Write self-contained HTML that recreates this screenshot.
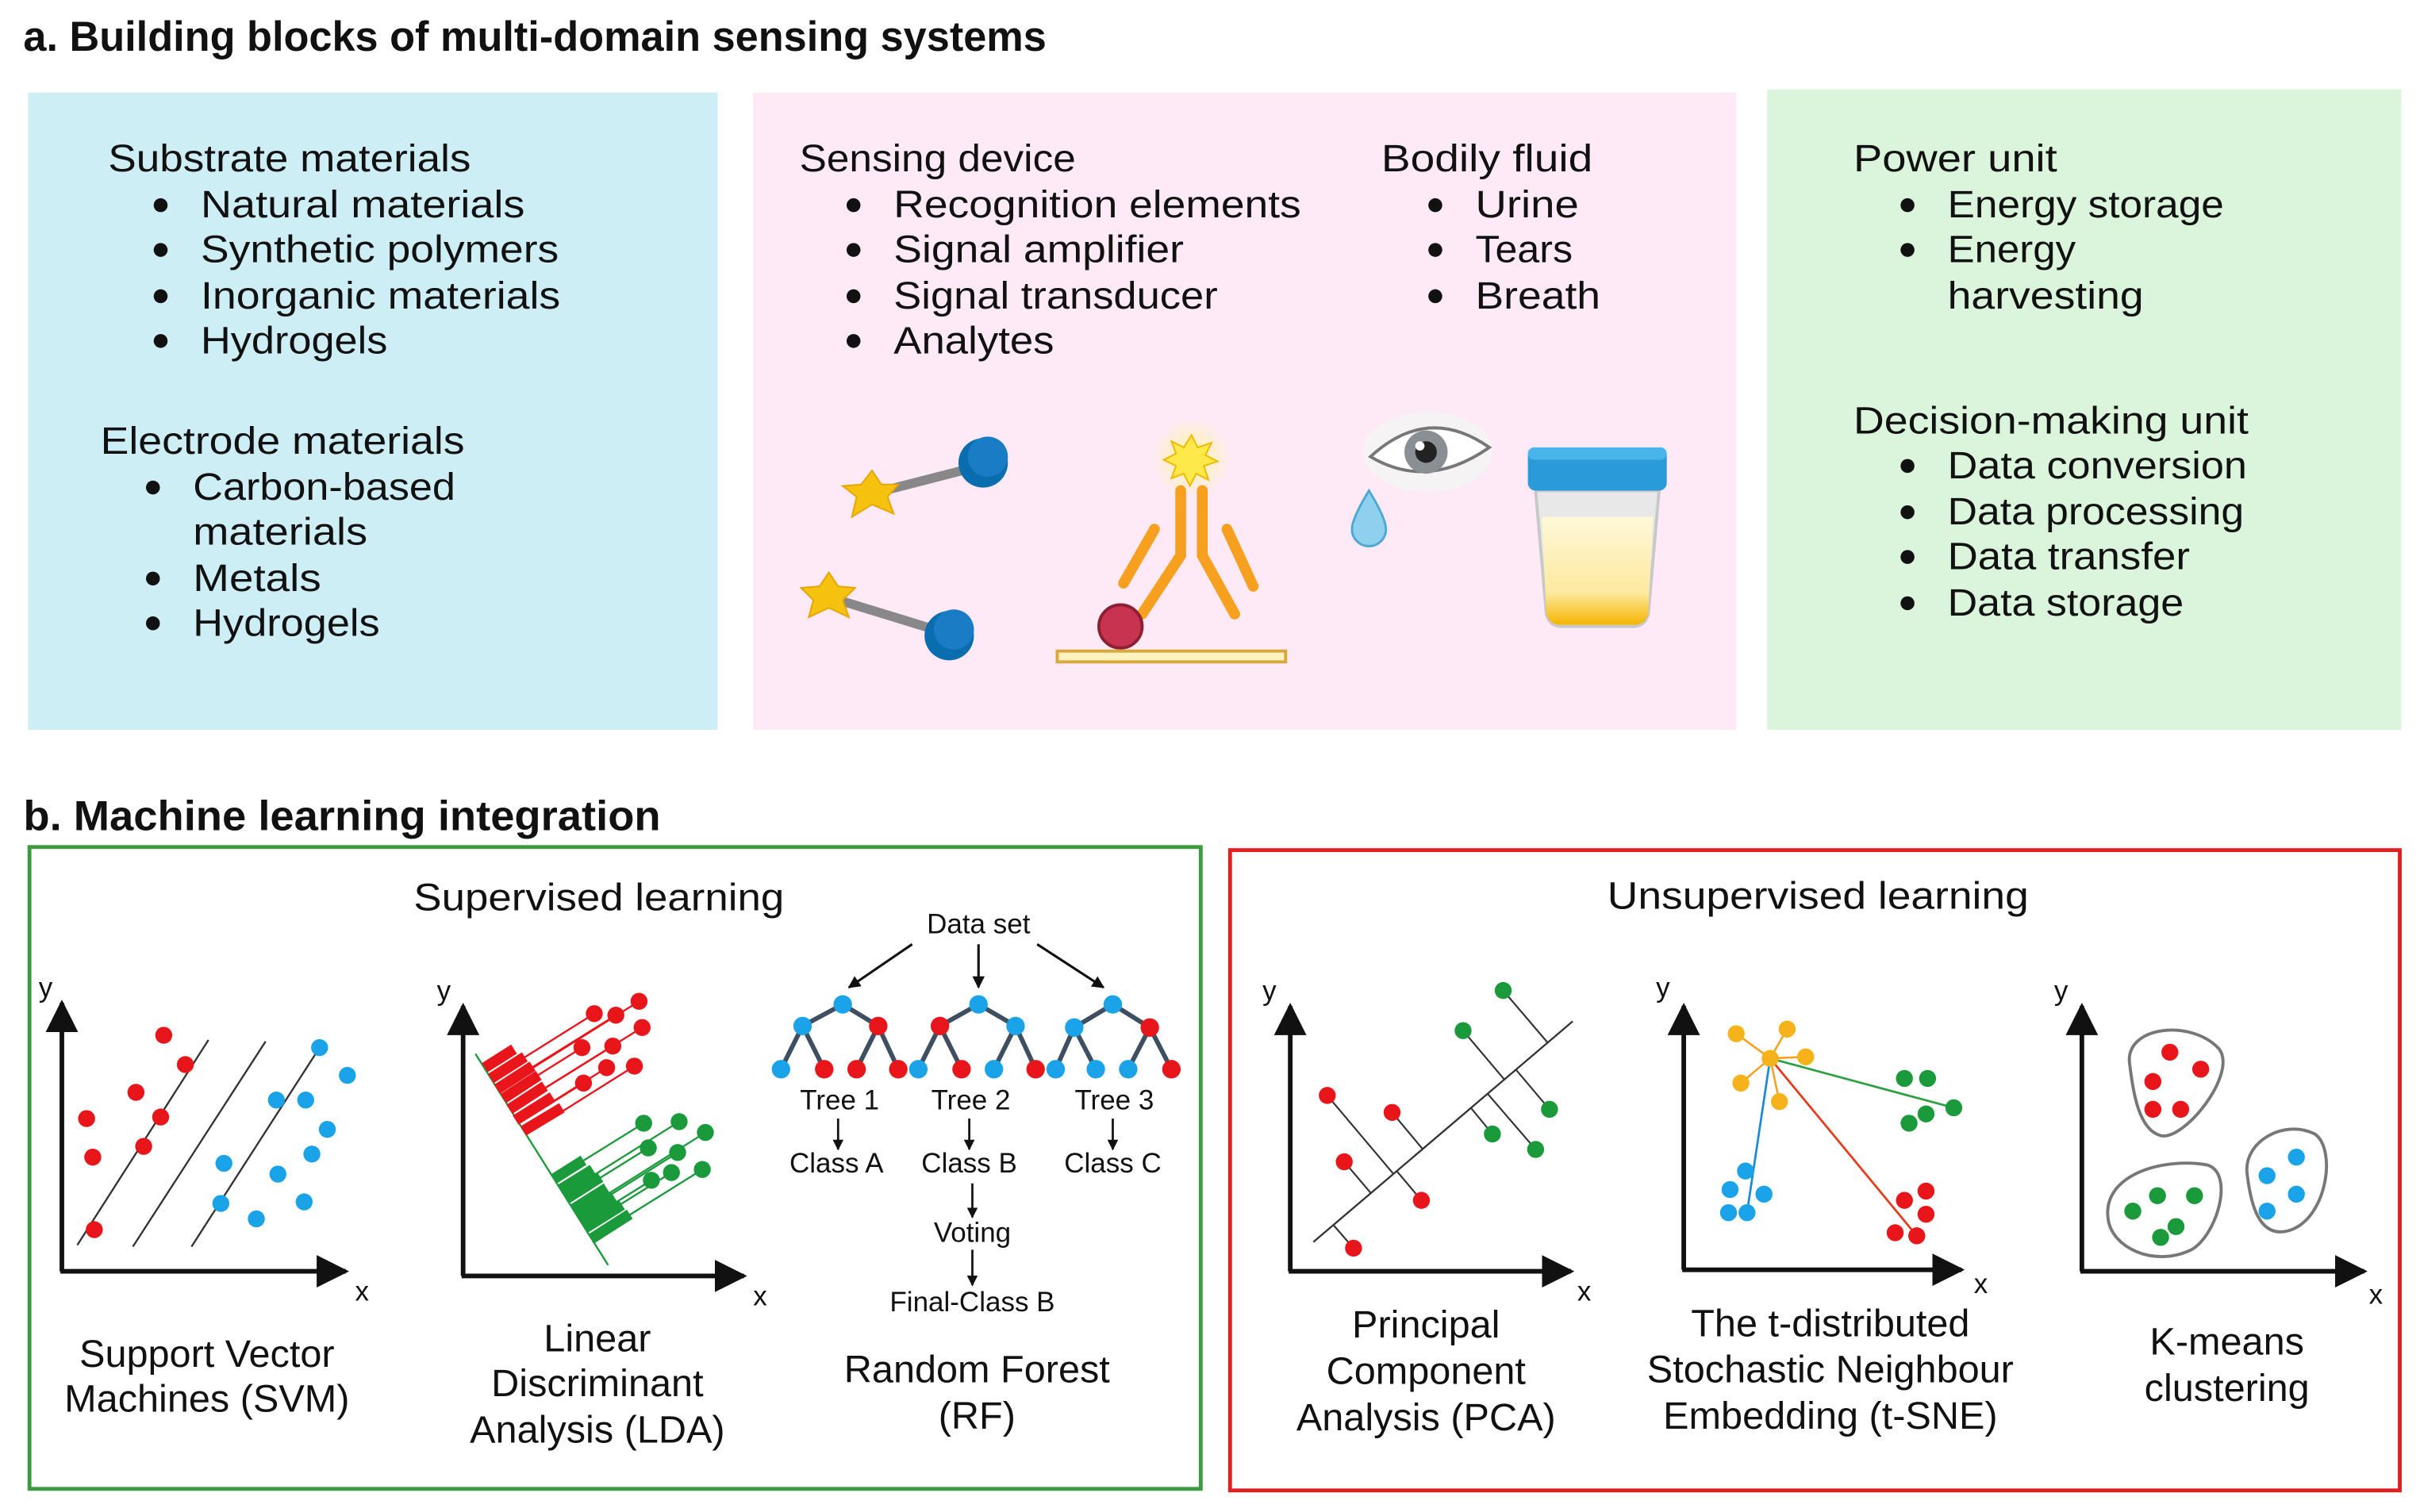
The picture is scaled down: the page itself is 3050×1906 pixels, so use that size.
<!DOCTYPE html>
<html><head><meta charset="utf-8"><style>
html,body{margin:0;padding:0;background:#fff;}
svg{display:block;}
text{font-family:"Liberation Sans",sans-serif;fill:#111;}
.t{font-size:25px;}
.s{font-size:18px;}
.b{font-weight:bold;font-size:27px;}
</style></head><body>
<svg width="3050" height="1906" viewBox="0 0 1568 980" xmlns="http://www.w3.org/2000/svg">
<defs>
<marker id="ah" viewBox="0 0 10 10" refX="9" refY="5" markerWidth="7" markerHeight="7" orient="auto-start-reverse"><path d="M0,0 L10,5 L0,10 z" fill="#111"/></marker>
<marker id="ahs" viewBox="0 0 10 10" refX="9" refY="5" markerWidth="5" markerHeight="5" orient="auto"><path d="M0,0 L10,5 L0,10 z" fill="#111"/></marker>
<radialGradient id="glow"><stop offset="0" stop-color="#fff6a0" stop-opacity="1"/><stop offset="1" stop-color="#fff6a0" stop-opacity="0"/></radialGradient>
<linearGradient id="liq" x1="0" y1="0" x2="0" y2="1"><stop offset="0" stop-color="#fff8d8"/><stop offset="0.7" stop-color="#fde9a0"/><stop offset="1" stop-color="#f5b400"/></linearGradient>
</defs>

<text class="b" x="15" y="33" textLength="663" lengthAdjust="spacingAndGlyphs">a. Building blocks of multi-domain sensing systems</text>

<rect x="18" y="60" width="447" height="413" fill="#cdeef5"/>
<rect x="488" y="60" width="637" height="413" fill="#fdeaf6"/>
<rect x="1145" y="58" width="411" height="415" fill="#daf5dc"/>

<g class="t">
<text x="70" y="111" textLength="235" lengthAdjust="spacingAndGlyphs">Substrate materials</text>
<text x="130" y="141" textLength="210" lengthAdjust="spacingAndGlyphs">Natural materials</text>
<text x="130" y="170" textLength="232" lengthAdjust="spacingAndGlyphs">Synthetic polymers</text>
<text x="130" y="200" textLength="233" lengthAdjust="spacingAndGlyphs">Inorganic materials</text>
<text x="130" y="229" textLength="121" lengthAdjust="spacingAndGlyphs">Hydrogels</text>
<text x="65" y="294" textLength="236" lengthAdjust="spacingAndGlyphs">Electrode materials</text>
<text x="125" y="324" textLength="170" lengthAdjust="spacingAndGlyphs">Carbon-based</text>
<text x="125" y="353" textLength="113" lengthAdjust="spacingAndGlyphs">materials</text>
<text x="125" y="383" textLength="83" lengthAdjust="spacingAndGlyphs">Metals</text>
<text x="125" y="412" textLength="121" lengthAdjust="spacingAndGlyphs">Hydrogels</text>

<text x="518" y="111" textLength="179" lengthAdjust="spacingAndGlyphs">Sensing device</text>
<text x="579" y="141" textLength="264" lengthAdjust="spacingAndGlyphs">Recognition elements</text>
<text x="579" y="170" textLength="188" lengthAdjust="spacingAndGlyphs">Signal amplifier</text>
<text x="579" y="200" textLength="210" lengthAdjust="spacingAndGlyphs">Signal transducer</text>
<text x="579" y="229" textLength="104" lengthAdjust="spacingAndGlyphs">Analytes</text>
<text x="895" y="111" textLength="137" lengthAdjust="spacingAndGlyphs">Bodily fluid</text>
<text x="956" y="141" textLength="67" lengthAdjust="spacingAndGlyphs">Urine</text>
<text x="956" y="170" textLength="63" lengthAdjust="spacingAndGlyphs">Tears</text>
<text x="956" y="200" textLength="81" lengthAdjust="spacingAndGlyphs">Breath</text>

<text x="1201" y="111" textLength="132" lengthAdjust="spacingAndGlyphs">Power unit</text>
<text x="1262" y="141" textLength="179" lengthAdjust="spacingAndGlyphs">Energy storage</text>
<text x="1262" y="170" textLength="83" lengthAdjust="spacingAndGlyphs">Energy</text>
<text x="1262" y="200" textLength="127" lengthAdjust="spacingAndGlyphs">harvesting</text>
<text x="1201" y="281" textLength="256" lengthAdjust="spacingAndGlyphs">Decision-making unit</text>
<text x="1262" y="310" textLength="194" lengthAdjust="spacingAndGlyphs">Data conversion</text>
<text x="1262" y="340" textLength="192" lengthAdjust="spacingAndGlyphs">Data processing</text>
<text x="1262" y="369" textLength="157" lengthAdjust="spacingAndGlyphs">Data transfer</text>
<text x="1262" y="399" textLength="153" lengthAdjust="spacingAndGlyphs">Data storage</text>
</g>
<g fill="#111">
<circle cx="104" cy="133" r="4.5"/><circle cx="104" cy="162" r="4.5"/><circle cx="104" cy="192" r="4.5"/><circle cx="104" cy="221" r="4.5"/>
<circle cx="99" cy="316" r="4.5"/><circle cx="99" cy="375" r="4.5"/><circle cx="99" cy="404" r="4.5"/>
<circle cx="553" cy="133" r="4.5"/><circle cx="553" cy="162" r="4.5"/><circle cx="553" cy="192" r="4.5"/><circle cx="553" cy="221" r="4.5"/>
<circle cx="930" cy="133" r="4.5"/><circle cx="930" cy="162" r="4.5"/><circle cx="930" cy="192" r="4.5"/>
<circle cx="1236" cy="133" r="4.5"/><circle cx="1236" cy="162" r="4.5"/>
<circle cx="1236" cy="302" r="4.5"/><circle cx="1236" cy="332" r="4.5"/><circle cx="1236" cy="361" r="4.5"/><circle cx="1236" cy="391" r="4.5"/>
</g>

<!-- molecules -->
<line x1="565" y1="320" x2="635" y2="302" stroke="#888" stroke-width="6"/>
<polygon points="565,305 571,314 582,314 575,322 579,333 565,327 552,335 555,322 546,315 558,314" fill="#f5c20f" stroke="#e8a400" stroke-width="1"/>
<circle cx="637" cy="300" r="16" fill="#0a6db0"/><circle cx="640" cy="296" r="13" fill="#1a7cc4"/>
<line x1="537" y1="387" x2="612" y2="410" stroke="#888" stroke-width="6"/>
<polygon points="537,371 543,380 554,381 546,389 550,400 537,394 524,400 527,389 519,381 531,380" fill="#f5c20f" stroke="#e8a400" stroke-width="1"/>
<circle cx="615" cy="412" r="16" fill="#0a6db0"/><circle cx="618" cy="408" r="13" fill="#1a7cc4"/>
<!-- antibody -->
<rect x="685" y="422" width="148" height="7" fill="#fdf2c0" stroke="#d8a83a" stroke-width="2"/>
<circle cx="772" cy="297" r="26" fill="url(#glow)"/>
<polygon points="772,282 776,290 785,287 781,295 789,299 780,302 783,311 775,307 771,315 767,307 759,310 762,302 754,298 762,294 759,286 767,290" fill="#fde94a" stroke="#f0b800" stroke-width="1"/>
<g stroke="#f7a020" stroke-width="7" stroke-linecap="round" fill="none">
<line x1="765" y1="318" x2="765" y2="360"/><line x1="779" y1="318" x2="779" y2="360"/>
<polyline points="765,360 740,398"/><polyline points="779,360 800,398"/>
<line x1="748" y1="343" x2="728" y2="378"/><line x1="795" y1="343" x2="812" y2="380"/>
</g>
<circle cx="726" cy="406" r="14" fill="#c8344f" stroke="#8e1f33" stroke-width="2"/>
<!-- eye -->
<ellipse cx="925" cy="293" rx="42" ry="26" fill="#f4f4f4" opacity="0.9"/>
<path d="M888,296 Q925,262 965,290 Q925,318 888,296 z" fill="#fff" stroke="#777" stroke-width="2"/>
<circle cx="924" cy="293" r="14" fill="#8a8f94"/><circle cx="924" cy="293" r="7" fill="#222"/><circle cx="920" cy="289" r="3" fill="#fff"/>
<path d="M887,318 Q876,336 876,343 A11,11 0 0 0 898,343 Q898,336 887,318 z" fill="#8fd0ee" stroke="#4fa8d4" stroke-width="1.5"/>
<!-- cup -->
<path d="M995,318 L1075,318 L1068,398 Q1066,406 1058,406 L1012,406 Q1004,406 1002,398 z" fill="#e8e8e8" stroke="#c8c8c8" stroke-width="2"/>
<path d="M999,335 L1071,335 L1068,398 Q1066,405 1058,405 L1012,405 Q1004,405 1002,398 z" fill="url(#liq)"/>
<rect x="990" y="290" width="90" height="28" rx="5" fill="#2a9bd8"/>
<rect x="990" y="290" width="90" height="8" rx="4" fill="#49b4ea"/>

<!-- PART B -->
<text class="b" x="15" y="538" textLength="413" lengthAdjust="spacingAndGlyphs">b. Machine learning integration</text>
<rect x="19" y="549" width="759" height="416" fill="none" stroke="#3d9a40" stroke-width="2.5"/>
<rect x="797" y="551" width="758" height="415" fill="none" stroke="#e02020" stroke-width="2.5"/>
<text class="t" x="388" y="590" text-anchor="middle" textLength="240" lengthAdjust="spacingAndGlyphs">Supervised learning</text>
<text class="t" x="1178" y="589" text-anchor="middle" textLength="273" lengthAdjust="spacingAndGlyphs">Unsupervised learning</text>

<!-- SVM -->
<g stroke="#111" stroke-width="3" fill="none">
<line x1="40" y1="824" x2="40" y2="650" marker-end="url(#ah)"/>
<line x1="39" y1="824" x2="224" y2="824" marker-end="url(#ah)"/>
</g>
<text class="s" x="25" y="646">y</text><text class="s" x="230" y="843">x</text>
<g stroke="#333" stroke-width="1.2">
<line x1="50" y1="807" x2="135" y2="674"/><line x1="86" y1="808" x2="172" y2="675"/><line x1="124" y1="808" x2="207" y2="679"/>
</g>
<g fill="#e8151b">
<circle cx="106" cy="671" r="5.5"/><circle cx="120" cy="690" r="5.5"/><circle cx="88" cy="708" r="5.5"/><circle cx="56" cy="725" r="5.5"/><circle cx="104" cy="724" r="5.5"/><circle cx="93" cy="743" r="5.5"/><circle cx="60" cy="750" r="5.5"/><circle cx="61" cy="797" r="5.5"/>
</g>
<g fill="#1aa3e8">
<circle cx="207" cy="679" r="5.5"/><circle cx="225" cy="697" r="5.5"/><circle cx="179" cy="713" r="5.5"/><circle cx="198" cy="713" r="5.5"/><circle cx="212" cy="732" r="5.5"/><circle cx="202" cy="748" r="5.5"/><circle cx="145" cy="754" r="5.5"/><circle cx="180" cy="761" r="5.5"/><circle cx="143" cy="780" r="5.5"/><circle cx="197" cy="779" r="5.5"/><circle cx="166" cy="790" r="5.5"/>
</g>
<text class="t" x="134" y="886" text-anchor="middle">Support Vector</text>
<text class="t" x="134" y="915" text-anchor="middle">Machines (SVM)</text>

<!-- LDA -->
<g stroke="#111" stroke-width="3" fill="none">
<line x1="300" y1="827" x2="300" y2="652" marker-end="url(#ah)"/>
<line x1="299" y1="827" x2="482" y2="827" marker-end="url(#ah)"/>
</g>
<text class="s" x="283" y="648">y</text><text class="s" x="488" y="846">x</text>
<line x1="308" y1="683" x2="394" y2="820" stroke="#1a9a3a" stroke-width="1.2"/>
<g stroke="#e8151b" stroke-width="1.2">
<line x1="318" y1="699" x2="385" y2="657"/><line x1="322" y1="706" x2="399" y2="658"/><line x1="323" y1="706" x2="414" y2="649"/><line x1="331" y1="719" x2="416" y2="666"/><line x1="326" y1="711" x2="377" y2="679"/><line x1="331" y1="719" x2="397" y2="678"/><line x1="336" y1="728" x2="393" y2="692"/><line x1="341" y1="735" x2="411" y2="691"/><line x1="336" y1="728" x2="378" y2="702"/>
</g>
<g stroke="#e8151b" stroke-width="7">
<line x1="314" y1="692" x2="333" y2="680"/><line x1="318" y1="699" x2="340" y2="685"/><line x1="322" y1="706" x2="345" y2="691"/><line x1="326" y1="712" x2="349" y2="697"/><line x1="330" y1="719" x2="353" y2="704"/><line x1="334" y1="726" x2="358" y2="711"/><line x1="339" y1="733" x2="364" y2="718"/>
</g>
<g fill="#e8151b">
<circle cx="385" cy="657" r="5.5"/><circle cx="399" cy="658" r="5.5"/><circle cx="414" cy="649" r="5.5"/><circle cx="416" cy="666" r="5.5"/><circle cx="377" cy="679" r="5.5"/><circle cx="397" cy="678" r="5.5"/><circle cx="393" cy="692" r="5.5"/><circle cx="411" cy="691" r="5.5"/><circle cx="378" cy="702" r="5.5"/>
</g>
<g stroke="#1a9a3a" stroke-width="1.2">
<line x1="359" y1="764" x2="417" y2="728"/><line x1="365" y1="774" x2="440" y2="727"/><line x1="373" y1="787" x2="457" y2="734"/><line x1="367" y1="777" x2="420" y2="744"/><line x1="374" y1="788" x2="439" y2="747"/><line x1="379" y1="795" x2="435" y2="760"/><line x1="383" y1="803" x2="455" y2="758"/><line x1="377" y1="793" x2="422" y2="765"/>
</g>
<g stroke="#1a9a3a" stroke-width="7">
<line x1="359" y1="764" x2="378" y2="752"/><line x1="363" y1="771" x2="384" y2="758"/><line x1="367" y1="777" x2="389" y2="763"/><line x1="371" y1="784" x2="393" y2="770"/><line x1="375" y1="790" x2="398" y2="776"/><line x1="379" y1="796" x2="403" y2="781"/><line x1="383" y1="803" x2="408" y2="787"/>
</g>
<g fill="#1a9a3a">
<circle cx="417" cy="728" r="5.5"/><circle cx="440" cy="727" r="5.5"/><circle cx="457" cy="734" r="5.5"/><circle cx="420" cy="744" r="5.5"/><circle cx="439" cy="747" r="5.5"/><circle cx="435" cy="760" r="5.5"/><circle cx="455" cy="758" r="5.5"/><circle cx="422" cy="765" r="5.5"/>
</g>
<text class="t" x="387" y="876" text-anchor="middle">Linear</text>
<text class="t" x="387" y="905" text-anchor="middle">Discriminant</text>
<text class="t" x="387" y="935" text-anchor="middle">Analysis (LDA)</text>

<!-- RF -->
<text class="s" x="634" y="605" text-anchor="middle">Data set</text>
<g stroke="#111" stroke-width="1.6">
<line x1="591" y1="612" x2="550" y2="640" marker-end="url(#ahs)"/>
<line x1="634" y1="612" x2="634" y2="640" marker-end="url(#ahs)"/>
<line x1="672" y1="612" x2="715" y2="640" marker-end="url(#ahs)"/>
</g>
<g stroke="#3d4f60" stroke-width="3">
<polyline points="506,693 520,665 546,651 569,665 582,693" fill="none"/><line x1="520" y1="665" x2="534" y2="693"/><line x1="569" y1="665" x2="555" y2="693"/>
<polyline points="595,693 609,665 634,651 658,665 671,693" fill="none"/><line x1="609" y1="665" x2="623" y2="693"/><line x1="658" y1="665" x2="644" y2="693"/>
<polyline points="684,693 696,666 721,651 745,666 759,693" fill="none"/><line x1="696" y1="666" x2="710" y2="693"/><line x1="745" y1="666" x2="731" y2="693"/>
</g>
<g>
<circle cx="546" cy="651" r="6" fill="#1aa3e8"/><circle cx="520" cy="665" r="6" fill="#1aa3e8"/><circle cx="569" cy="665" r="6" fill="#e8151b"/>
<circle cx="506" cy="693" r="6" fill="#1aa3e8"/><circle cx="534" cy="693" r="6" fill="#e8151b"/><circle cx="555" cy="693" r="6" fill="#e8151b"/><circle cx="582" cy="693" r="6" fill="#e8151b"/>
<circle cx="634" cy="651" r="6" fill="#1aa3e8"/><circle cx="609" cy="665" r="6" fill="#e8151b"/><circle cx="658" cy="665" r="6" fill="#1aa3e8"/>
<circle cx="595" cy="693" r="6" fill="#1aa3e8"/><circle cx="623" cy="693" r="6" fill="#e8151b"/><circle cx="644" cy="693" r="6" fill="#1aa3e8"/><circle cx="671" cy="693" r="6" fill="#e8151b"/>
<circle cx="721" cy="651" r="6" fill="#1aa3e8"/><circle cx="696" cy="666" r="6" fill="#1aa3e8"/><circle cx="745" cy="666" r="6" fill="#e8151b"/>
<circle cx="684" cy="693" r="6" fill="#1aa3e8"/><circle cx="710" cy="693" r="6" fill="#1aa3e8"/><circle cx="731" cy="693" r="6" fill="#1aa3e8"/><circle cx="759" cy="693" r="6" fill="#e8151b"/>
</g>
<g class="s" text-anchor="middle">
<text x="544" y="719">Tree 1</text><text x="629" y="719">Tree 2</text><text x="722" y="719">Tree 3</text>
<text x="542" y="760">Class A</text><text x="628" y="760">Class B</text><text x="721" y="760">Class C</text>
<text x="630" y="805">Voting</text><text x="630" y="850">Final-Class B</text>
</g>
<g stroke="#111" stroke-width="1.4">
<line x1="543" y1="725" x2="543" y2="745" marker-end="url(#ahs)"/>
<line x1="628" y1="725" x2="628" y2="745" marker-end="url(#ahs)"/>
<line x1="721" y1="725" x2="721" y2="745" marker-end="url(#ahs)"/>
<line x1="630" y1="767" x2="630" y2="789" marker-end="url(#ahs)"/>
<line x1="630" y1="810" x2="630" y2="833" marker-end="url(#ahs)"/>
</g>
<text class="t" x="633" y="896" text-anchor="middle">Random Forest</text>
<text class="t" x="633" y="926" text-anchor="middle">(RF)</text>

<!-- PCA -->
<g stroke="#111" stroke-width="3" fill="none">
<line x1="836" y1="824" x2="836" y2="652" marker-end="url(#ah)"/>
<line x1="835" y1="824" x2="1018" y2="824" marker-end="url(#ah)"/>
</g>
<text class="s" x="818" y="648">y</text><text class="s" x="1022" y="843">x</text>
<line x1="851" y1="805" x2="1019" y2="662" stroke="#333" stroke-width="1.2"/>
<g stroke="#333" stroke-width="1.1">
<line x1="860" y1="710" x2="903" y2="761"/><line x1="902" y1="721" x2="922" y2="745"/><line x1="871" y1="753" x2="888" y2="773"/><line x1="921" y1="778" x2="905" y2="759"/><line x1="877" y1="809" x2="864" y2="794"/>
<line x1="974" y1="642" x2="1003" y2="676"/><line x1="948" y1="668" x2="975" y2="700"/><line x1="1004" y1="719" x2="982" y2="693"/><line x1="967" y1="735" x2="953" y2="718"/><line x1="995" y1="745" x2="964" y2="709"/>
</g>
<g fill="#e8151b"><circle cx="860" cy="710" r="5.5"/><circle cx="902" cy="721" r="5.5"/><circle cx="871" cy="753" r="5.5"/><circle cx="921" cy="778" r="5.5"/><circle cx="877" cy="809" r="5.5"/></g>
<g fill="#1a9a3a"><circle cx="974" cy="642" r="5.5"/><circle cx="948" cy="668" r="5.5"/><circle cx="1004" cy="719" r="5.5"/><circle cx="967" cy="735" r="5.5"/><circle cx="995" cy="745" r="5.5"/></g>
<text class="t" x="924" y="867" text-anchor="middle">Principal</text>
<text class="t" x="924" y="897" text-anchor="middle">Component</text>
<text class="t" x="924" y="927" text-anchor="middle">Analysis (PCA)</text>

<!-- t-SNE -->
<g stroke="#111" stroke-width="3" fill="none">
<line x1="1091" y1="823" x2="1091" y2="652" marker-end="url(#ah)"/>
<line x1="1090" y1="823" x2="1271" y2="823" marker-end="url(#ah)"/>
</g>
<text class="s" x="1073" y="646">y</text><text class="s" x="1279" y="838">x</text>
<g stroke="#f7a020" stroke-width="1.3">
<line x1="1147" y1="686" x2="1125" y2="670"/><line x1="1147" y1="686" x2="1158" y2="667"/><line x1="1147" y1="686" x2="1170" y2="685"/><line x1="1147" y1="686" x2="1128" y2="702"/><line x1="1147" y1="686" x2="1153" y2="714"/>
</g>
<line x1="1147" y1="686" x2="1266" y2="718" stroke="#2aa040" stroke-width="1.4"/>
<line x1="1147" y1="686" x2="1132" y2="786" stroke="#1a8ad8" stroke-width="1.4"/>
<line x1="1147" y1="686" x2="1242" y2="801" stroke="#e83a1a" stroke-width="1.4"/>
<g fill="#f5b21b"><circle cx="1147" cy="686" r="5.5"/><circle cx="1125" cy="670" r="5.5"/><circle cx="1158" cy="667" r="5.5"/><circle cx="1170" cy="685" r="5.5"/><circle cx="1128" cy="702" r="5.5"/><circle cx="1153" cy="714" r="5.5"/></g>
<g fill="#1a9a3a"><circle cx="1234" cy="699" r="5.5"/><circle cx="1249" cy="699" r="5.5"/><circle cx="1266" cy="718" r="5.5"/><circle cx="1248" cy="722" r="5.5"/><circle cx="1237" cy="728" r="5.5"/></g>
<g fill="#1aa3e8"><circle cx="1131" cy="759" r="5.5"/><circle cx="1121" cy="771" r="5.5"/><circle cx="1143" cy="774" r="5.5"/><circle cx="1120" cy="786" r="5.5"/><circle cx="1132" cy="786" r="5.5"/></g>
<g fill="#e8151b"><circle cx="1248" cy="772" r="5.5"/><circle cx="1234" cy="778" r="5.5"/><circle cx="1248" cy="787" r="5.5"/><circle cx="1228" cy="799" r="5.5"/><circle cx="1242" cy="801" r="5.5"/></g>
<text class="t" x="1186" y="866" text-anchor="middle">The t-distributed</text>
<text class="t" x="1186" y="896" text-anchor="middle">Stochastic Neighbour</text>
<text class="t" x="1186" y="926" text-anchor="middle">Embedding (t-SNE)</text>

<!-- K-means -->
<g stroke="#111" stroke-width="3" fill="none">
<line x1="1349" y1="824" x2="1349" y2="652" marker-end="url(#ah)"/>
<line x1="1348" y1="824" x2="1532" y2="824" marker-end="url(#ah)"/>
</g>
<text class="s" x="1331" y="648">y</text><text class="s" x="1535" y="845">x</text>
<g fill="none" stroke="#777" stroke-width="2">
<path d="M1380,690 C1376,665 1420,660 1438,680 C1450,696 1415,740 1400,736 C1385,732 1382,705 1380,690 z"/>
<path d="M1366,790 C1362,762 1400,750 1430,755 C1448,760 1437,800 1420,810 C1395,822 1368,808 1366,790 z"/>
<path d="M1456,760 C1454,740 1480,725 1500,735 C1514,745 1508,788 1485,797 C1463,805 1458,778 1456,760 z"/>
</g>
<g fill="#e8151b"><circle cx="1406" cy="682" r="5.5"/><circle cx="1426" cy="693" r="5.5"/><circle cx="1395" cy="701" r="5.5"/><circle cx="1395" cy="719" r="5.5"/><circle cx="1413" cy="719" r="5.5"/></g>
<g fill="#1a9a3a"><circle cx="1398" cy="775" r="5.5"/><circle cx="1422" cy="775" r="5.5"/><circle cx="1382" cy="785" r="5.5"/><circle cx="1410" cy="795" r="5.5"/><circle cx="1400" cy="802" r="5.5"/></g>
<g fill="#1aa3e8"><circle cx="1488" cy="750" r="5.5"/><circle cx="1469" cy="762" r="5.5"/><circle cx="1488" cy="774" r="5.5"/><circle cx="1469" cy="785" r="5.5"/></g>
<text class="t" x="1443" y="878" text-anchor="middle">K-means</text>
<text class="t" x="1443" y="908" text-anchor="middle">clustering</text>
</svg>
</body></html>
